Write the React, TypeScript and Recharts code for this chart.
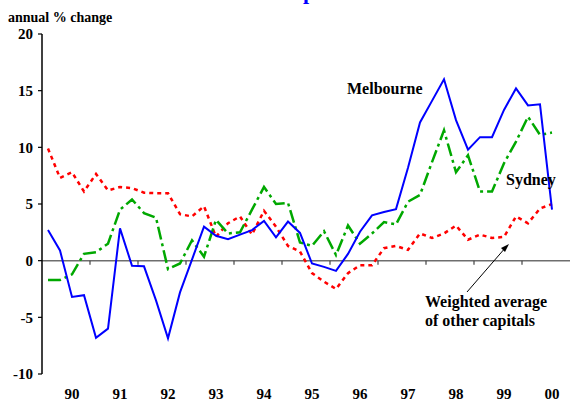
import React from 'react';
import { LineChart, Line, XAxis, YAxis, ReferenceLine } from 'recharts';

// annual % change, quarterly from Mar-90 to Sep-00
const melbourne = [
    2.7, 0.9, -3.2, -3.05, -6.8, -6.0, 2.85, -0.45, -0.5, -3.5, -6.85,
    -2.8, 0.1, 3.0, 2.2, 1.9, 2.3, 2.7, 3.5, 2.05, 3.45, 2.45, -0.25,
    -0.55, -0.9, 0.6, 2.55, 4.0, 4.3, 4.55, 8.2, 12.2, 14.1, 16.0, 12.4,
    9.8, 10.9, 10.9, 13.3, 15.2, 13.7, 13.8, 4.5,
];
const sydney = [
    -1.7, -1.7, -1.2, 0.6, 0.75, 1.5, 4.5, 5.4, 4.2, 3.8, -0.75,
    -0.25, 1.8, 0.35, 3.6, 2.4, 2.5, 4.5, 6.5, 5.0, 5.1, 1.6, 1.3,
    2.6, 0.5, 3.1, 1.5, 2.4, 3.4, 3.2, 5.2, 5.8, 8.7, 11.5, 7.8,
    9.3, 6.1, 6.1, 8.6, 10.5, 12.7, 11.1, 11.3,
];
const otherCapitals = [
    9.9, 7.3, 7.8, 6.1, 7.65, 6.2, 6.5, 6.4, 6.0, 5.95, 5.95,
    4.1, 3.9, 4.8, 2.1, 3.3, 3.9, 2.3, 4.4, 3.0, 1.3, 0.8, -1.1,
    -1.85, -2.5, -1.1, -0.4, -0.4, 1.1, 1.3, 0.95, 2.4, 2.0, 2.4, 3.1,
    1.85, 2.3, 2.0, 2.1, 3.9, 3.3, 4.6, 5.0,
];
const yearLabels = ['90', '91', '92', '93', '94', '95', '96', '97', '98', '99', '00'];
const yTicks = [-10, -5, 0, 5, 10, 15, 20];

const data = melbourne.map((m, i) => ({
    q: i + 0.5,
    melbourne: m,
    sydney: sydney[i],
    others: otherCapitals[i],
}));

const yearTicks = yearLabels.map((_, i) => i * 4 + 2.5);
const yearBounds = yearLabels.slice(1).map((_, i) => (i + 1) * 4);

const font = "'Times New Roman', 'Liberation Serif', serif";
const labelStyle = { fontFamily: font, fontWeight: 'bold' as const, fontSize: 16, fill: '#000' };

const App = () => {
    return (
        <div style={{ position: 'absolute', left: 0, top: 0, width: 570, height: 401 }}>
            <LineChart width={570} height={401} data={data} margin={{ top: 34, right: 0, bottom: 0, left: 0 }}>
                <XAxis
                    dataKey="q"
                    type="number"
                    domain={[0, 44]}
                    ticks={yearTicks}
                    tickFormatter={(v: number) => yearLabels[Math.round((v - 2.5) / 4)]}
                    axisLine={false}
                    tickLine={false}
                    tickSize={0}
                    tickMargin={14}
                    height={27}
                    interval={0}
                    tick={{ fontFamily: font, fontWeight: 'bold', fontSize: 15, fill: '#000' }}
                />
                <YAxis
                    type="number"
                    domain={[-10, 20]}
                    ticks={yTicks}
                    width={42}
                    interval={0}
                    tickSize={4}
                    tickMargin={5}
                    axisLine={{ stroke: '#000', strokeWidth: 1.5 }}
                    tickLine={{ stroke: '#000', strokeWidth: 1.2 }}
                    tick={{ fontFamily: font, fontWeight: 'bold', fontSize: 15, fill: '#000' }}
                />
                <ReferenceLine y={0} stroke="#6e6e6e" strokeWidth={1.5} />
                {yearBounds.map((b) => (
                    <ReferenceLine
                        key={b}
                        segment={[{ x: b, y: 0 }, { x: b, y: -0.36 }]}
                        stroke="#444"
                        strokeWidth={1.2}
                    />
                ))}
                <Line
                    type="linear"
                    dataKey="others"
                    stroke="#ff0000"
                    strokeWidth={2.5}
                    strokeDasharray="4 4"
                    dot={false}
                    isAnimationActive={false}
                />
                <Line
                    type="linear"
                    dataKey="sydney"
                    stroke="#00a800"
                    strokeWidth={2.5}
                    strokeDasharray="13 4 3 4"
                    dot={false}
                    isAnimationActive={false}
                />
                <Line
                    type="linear"
                    dataKey="melbourne"
                    stroke="#0000ff"
                    strokeWidth={2}
                    dot={false}
                    isAnimationActive={false}
                />
            </LineChart>
            <svg width={570} height={401} style={{ position: 'absolute', left: 0, top: 0, pointerEvents: 'none' }}>
                <text x={299} y={-1} textAnchor="middle" fontFamily={font} fontWeight="bold" fontSize={22} fill="#0000ff">
                    House prices
                </text>
                <text x={8} y={22} fontFamily={font} fontWeight="bold" fontSize={14} fill="#000">
                    annual % change
                </text>
                <text x={347} y={94} {...labelStyle}>Melbourne</text>
                <text x={506} y={185} {...labelStyle}>Sydney</text>
                <text x={425} y={307} {...labelStyle}>Weighted average</text>
                <text x={425} y={326} {...labelStyle}>of other capitals</text>
                <line x1={467} y1={292} x2={506} y2={247} stroke="#000" strokeWidth={1} />
                <polygon points="509,244 501,248 505,252" fill="#000" />
            </svg>
        </div>
    );
};

export default App;
